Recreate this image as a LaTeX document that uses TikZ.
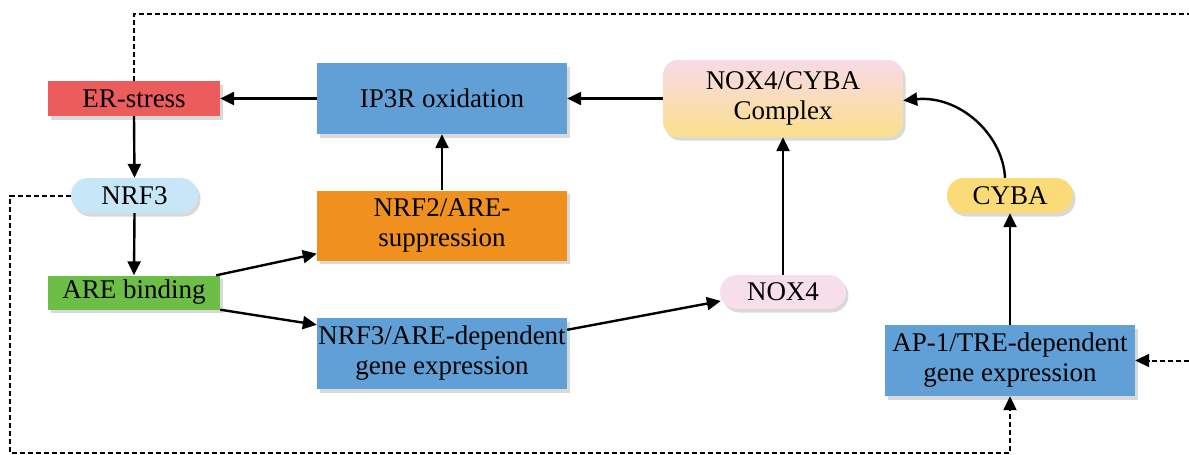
\documentclass[tikz,border=0pt]{standalone}
\usepackage{fontspec}
\setmainfont{Liberation Serif}
\usetikzlibrary{arrows.meta,shadows,calc}
\definecolor{erred}{RGB}{236,92,92}
\definecolor{boxblue}{RGB}{96,160,214}
\definecolor{nrforange}{RGB}{240,144,31}
\definecolor{aregreen}{RGB}{108,190,70}
\definecolor{nrfblue}{RGB}{199,231,248}
\definecolor{noxpink}{RGB}{246,222,234}
\definecolor{cybayel}{RGB}{250,219,120}
\definecolor{cplxtop}{RGB}{248,218,232}
\definecolor{cplxbot}{RGB}{251,224,140}
\begin{document}
\begin{tikzpicture}[x=1pt,y=-1pt,
  base/.style={inner sep=0pt, align=center, font=\fontsize{27}{30}\selectfont,
    drop shadow={shadow xshift=2.5pt, shadow yshift=-3.5pt, opacity=0.3}},
  rect/.style={base, rectangle},
  pill/.style={base, rectangle, rounded corners=17pt},
  tip/.style={-{Triangle[length=14pt,width=13pt]}},
  arr/.style={line width=2.4pt, tip},
  dsh/.style={line width=2pt, dash pattern=on 5pt off 3pt}]
\useasboundingbox (0,0) rectangle (1189,455);

\node[rect, fill=erred, minimum width=172pt, minimum height=35pt] (er) at (134,98.5) {ER-stress};
\node[rect, fill=boxblue, minimum width=250pt, minimum height=71pt] (ip3r) at (442,98.5) {IP3R oxidation};
\node[base, rectangle, rounded corners=15pt, top color=cplxtop, bottom color=cplxbot, minimum width=240pt, minimum height=77pt] (cplx) at (783,98.5) {NOX4/CYBA\\Complex};
\node[pill, fill=nrfblue, minimum width=127pt, minimum height=35pt] (nrf3) at (134.5,195.5) {NRF3};
\node[rect, fill=aregreen, minimum width=172pt, minimum height=34pt] (are) at (134,292.5) {ARE binding};
\node[rect, fill=nrforange, minimum width=250pt, minimum height=70pt] (nrf2) at (442,225.5) {NRF2/ARE-\\suppression};
\node[rect, fill=boxblue, minimum width=250pt, minimum height=71pt] (dep) at (442,353.5) {NRF3/ARE-dependent\\gene expression};
\node[pill, fill=noxpink, minimum width=126pt, minimum height=34pt] (nox4) at (783,292) {NOX4};
\node[pill, fill=cybayel, minimum width=126pt, minimum height=35pt] (cyba) at (1010,195.5) {CYBA};
\node[rect, fill=boxblue, minimum width=250pt, minimum height=71pt] (ap1) at (1010,360.5) {AP-1/TRE-dependent\\gene expression};

\draw[arr] (ip3r.west) -- (er.east);
\draw[arr] (cplx.west) -- (ip3r.east);
\draw[arr] (er.south) -- (nrf3.north);
\draw[arr] (nrf3.south) -- (are.north);
\draw[arr] (nrf2.north) -- (ip3r.south);
\draw[arr] ([xshift=-4pt]are.north east) -- ([yshift=7pt]nrf2.south west);
\draw[arr] (are.south east) -- ([yshift=-7pt]dep.north west);
\draw[arr] ([yshift=-12pt]dep.north east) -- ([xshift=1pt,yshift=-9pt]nox4.west);
\draw[arr] (nox4.north) -- (cplx.south);
\draw[arr] (ap1.north) -- (cyba.south);
\draw[arr] ([xshift=-5pt]cyba.north) .. controls (1003,135) and (960,95) .. ([yshift=-2pt]cplx.east);

\coordinate (tl) at (134,14);
\coordinate (tr) at (1189,14);
\coordinate (rr) at (1189,360.5);
\coordinate (bl1) at (10,195.5);
\coordinate (bl2) at (10,453);
\coordinate (br) at (1010,453);
\draw[dsh] (er.north) -- (tl) -- (tr);
\draw[dsh, tip] (rr) -- (ap1.east);
\draw[dsh, tip] (nrf3.west) -- (bl1) -- (bl2) -- (br) -- (ap1.south);
\end{tikzpicture}
\end{document}
